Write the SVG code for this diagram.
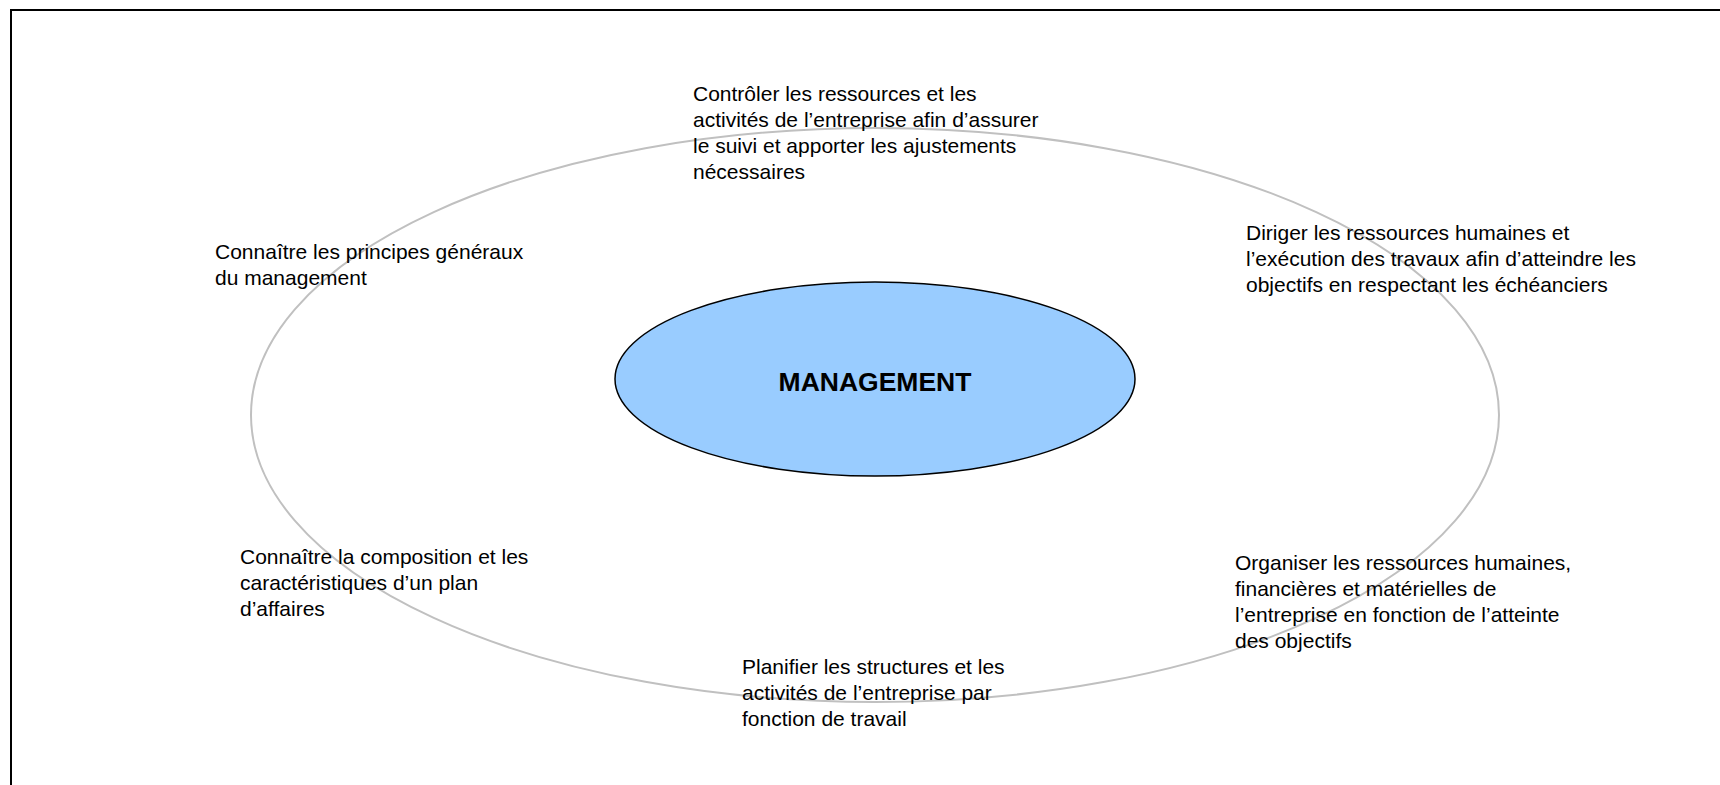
<svg xmlns="http://www.w3.org/2000/svg" width="1720" height="785" viewBox="0 0 1720 785">
<style>
.t{font-family:"Liberation Sans",Arial,sans-serif;font-size:21px;fill:#000}
.h{font-family:"Liberation Sans",Arial,sans-serif;font-size:26.5px;font-weight:bold;fill:#000}
</style>
<rect x="0" y="0" width="1720" height="785" fill="#fff"/>
<rect id="frame" x="11" y="10" width="1760" height="820" fill="none" stroke="#000" stroke-width="2"/>
<g id="connectors">
<ellipse cx="875" cy="415" rx="624" ry="287" fill="none" stroke="#c0c0c0" stroke-width="2"/>
</g>
<g id="center">
<ellipse cx="875" cy="379" rx="260" ry="97" fill="#99ccff" stroke="#000" stroke-width="1.5"/>
<text class="h" x="875" y="391" text-anchor="middle">MANAGEMENT</text>
</g>
<g id="n-controler">
<text class="t"><tspan x="693" y="101">Contrôler les ressources et les</tspan><tspan x="693" y="127">activités de l’entreprise afin d’assurer</tspan><tspan x="693" y="153">le suivi et apporter les ajustements</tspan><tspan x="693" y="179">nécessaires</tspan></text>
</g>
<g id="n-diriger">
<text class="t"><tspan x="1246" y="240">Diriger les ressources humaines et</tspan><tspan x="1246" y="266">l’exécution des travaux afin d’atteindre les</tspan><tspan x="1246" y="292">objectifs en respectant les échéanciers</tspan></text>
</g>
<g id="n-principes">
<text class="t"><tspan x="215" y="259">Connaître les principes généraux</tspan><tspan x="215" y="285">du management</tspan></text>
</g>
<g id="n-composition">
<text class="t"><tspan x="240" y="564">Connaître la composition et les</tspan><tspan x="240" y="590">caractéristiques d’un plan</tspan><tspan x="240" y="616">d’affaires</tspan></text>
</g>
<g id="n-organiser">
<text class="t"><tspan x="1235" y="570">Organiser les ressources humaines,</tspan><tspan x="1235" y="596">financières et matérielles de</tspan><tspan x="1235" y="622">l’entreprise en fonction de l’atteinte</tspan><tspan x="1235" y="648">des objectifs</tspan></text>
</g>
<g id="n-planifier">
<text class="t"><tspan x="742" y="674">Planifier les structures et les</tspan><tspan x="742" y="700">activités de l’entreprise par</tspan><tspan x="742" y="726">fonction de travail</tspan></text>
</g>
</svg>
